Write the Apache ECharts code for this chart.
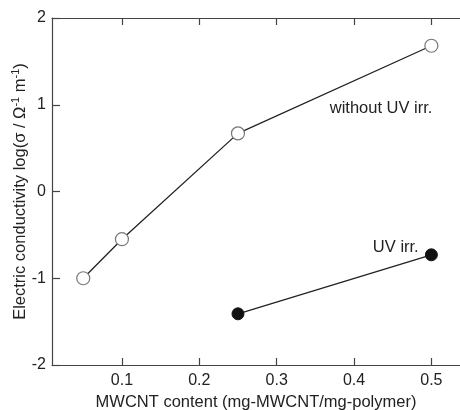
<!DOCTYPE html>
<html>
<head>
<meta charset="utf-8">
<script src="https://cdn.jsdelivr.net/npm/echarts@6/dist/echarts.min.js"></script>
<style>
html,body{margin:0;padding:0;background:#fff;}
#chart{width:460px;height:410px;}
</style>
</head>
<body>
<div id="chart"></div>
<script>
// MWCNT content (mg-MWCNT/mg-polymer)
var withoutUvX = [0.05, 0.1, 0.25, 0.5]
var withoutUvY = [-1.0, -0.55, 0.67, 1.68]
var uvX = [0.25, 0.5]
var uvY = [-1.41, -0.73]
var xTicks = [0.1, 0.2, 0.3, 0.4, 0.5]
var yTicks = [-2, -1, 0, 1, 2]
var seriesLabels = ['without UV irr.', 'UV irr.']

function pairs (xs, ys) {
  return xs.map(function (x, i) { return [x, ys[i]] })
}

var font = 'Liberation Sans, Arial, Helvetica, sans-serif'
var ink = '#222'

var chart = echarts.init(document.getElementById('chart'))
chart.setOption({
  animation: false,
  grid: {left: 52, right: 0, top: 18, bottom: 45, outerBoundsMode: 'none', containLabel: false},
  xAxis: [{
    type: 'value',
    min: 0.0096,
    max: 0.537,
    position: 'bottom',
    name: 'MWCNT content (mg-MWCNT/mg-polymer)',
    nameLocation: 'middle',
    nameGap: 28,
    nameTextStyle: {color: ink, fontSize: 16.5, fontFamily: font},
    axisLine: {onZero: false, lineStyle: {color: '#444', width: 1.2}},
    axisTick: {inside: true, length: 7, customValues: xTicks, lineStyle: {color: '#444', width: 1.2}},
    axisLabel: {customValues: xTicks, color: ink, fontSize: 16, fontFamily: font, margin: 8,
      formatter: function (v) { return v.toFixed(1) }},
    splitLine: {show: false}
  }, {
    type: 'value',
    min: 0.0096,
    max: 0.537,
    position: 'top',
    axisLine: {onZero: false, lineStyle: {color: '#444', width: 1.2}},
    axisTick: {inside: true, length: 7, customValues: xTicks, lineStyle: {color: '#444', width: 1.2}},
    axisLabel: {show: false},
    splitLine: {show: false}
  }],
  yAxis: {
    type: 'value',
    min: -2,
    max: 2,
    interval: 1,
    name: '{n|Electric conductivity log(σ / Ω}{s|-1}{n| m}{s|-1}{n|)}',
    nameLocation: 'middle',
    nameGap: 22,
    nameMoveOverlap: false,
    nameTextStyle: {
      rich: {
        n: {color: ink, fontSize: 16.5, fontFamily: font},
        s: {color: ink, fontSize: 11, fontFamily: font, verticalAlign: 'top', padding: [0, 0, 9, 0]}
      }
    },
    axisLine: {show: true, onZero: false, lineStyle: {color: '#444', width: 1.2}},
    axisTick: {show: true, inside: true, length: 8, lineStyle: {color: '#444', width: 1.2}},
    axisLabel: {color: ink, fontSize: 16, fontFamily: font, margin: 6},
    splitLine: {show: false}
  },
  series: [{
    type: 'line',
    data: pairs(withoutUvX, withoutUvY),
    symbol: 'circle',
    symbolSize: 13,
    lineStyle: {color: ink, width: 1.3},
    itemStyle: {color: '#fff', borderColor: '#777', borderWidth: 1.2},
    z: 3,
    markPoint: {
      symbol: 'circle',
      symbolSize: 0,
      data: [{coord: [0.435, 0.96], value: seriesLabels[0]}],
      label: {show: true, position: 'inside', formatter: '{c}', color: ink, fontSize: 16.5, fontFamily: font}
    }
  }, {
    type: 'line',
    data: pairs(uvX, uvY),
    symbol: 'circle',
    symbolSize: 12,
    lineStyle: {color: ink, width: 1.3},
    itemStyle: {color: '#111', borderColor: '#111', borderWidth: 1},
    z: 3,
    markPoint: {
      symbol: 'circle',
      symbolSize: 0,
      data: [{coord: [0.454, -0.65], value: seriesLabels[1]}],
      label: {show: true, position: 'inside', formatter: '{c}', color: ink, fontSize: 16.5, fontFamily: font}
    }
  }]
})
</script>
</body>
</html>
